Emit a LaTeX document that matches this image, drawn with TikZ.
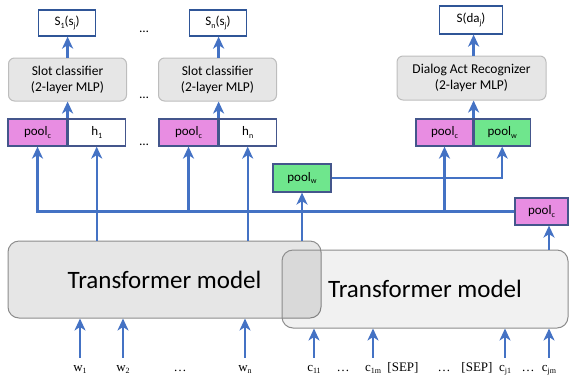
\documentclass[tikz,border=0pt]{standalone}
\usepackage{fontspec}
\setmainfont{Carlito}
\newfontfamily\inputfont{Liberation Serif}
\usetikzlibrary{arrows.meta}
\definecolor{arrowblue}{HTML}{4472C4}
\definecolor{scoreblue}{HTML}{2F5597}
\definecolor{poolborder}{HTML}{44568C}
\definecolor{poolpink}{HTML}{E88DE2}
\definecolor{poolgreen}{HTML}{6FE68D}
\definecolor{boxfill}{HTML}{E6E6E6}
\definecolor{boxline}{HTML}{BDBDBD}
\newcommand\lowsub[1]{\raisebox{-0.45ex}{\fontsize{8}{9}\selectfont #1}}

\begin{document}
\begin{tikzpicture}[x=1pt, y=-1pt, >={Stealth[length=12pt,width=11pt,inset=3.5pt]},
  flow/.style={->, draw=arrowblue, line width=2.3pt},
  score/.style={draw=scoreblue, fill=white, line width=1.2pt, minimum width=57pt,
    minimum height=26pt, inner sep=0pt, font=\fontsize{13}{15}\selectfont},
  mlp/.style={draw=boxline, fill=boxfill, rounded corners=6pt, line width=1pt,
    minimum width=118pt, minimum height=43pt, align=center,
    font=\fontsize{13.5}{16}\selectfont},
  vec/.style={draw=poolborder, line width=1.2pt, minimum height=27pt, inner sep=0pt,
    font=\fontsize{13}{15}\selectfont},
  trans/.style={draw=black!45, rounded corners=11pt, line width=1pt,
    font=\fontsize{25}{28}\selectfont},
  input/.style={font=\inputfont\fontsize{13}{15}\selectfont, text height=11pt,
    text depth=3pt, inner sep=2pt, anchor=base}]

\useasboundingbox (0,0) rectangle (569,381);

% output scores
\node [score] (score-1) at (67,23) {S\lowsub{1}(s\lowsub{j})};
\node [score] (score-n) at (218,23) {S\lowsub{n}(s\lowsub{j})};
\node [score, minimum width=63pt, minimum height=28pt] (score-da) at (471,20) {S(da\lowsub{j})};

% classifiers
\node [mlp] (clf-1) at (67.5,79.5) {Slot classifier\\(2-layer MLP)};
\node [mlp] (clf-n) at (217.5,79.5) {Slot classifier\\(2-layer MLP)};
\node [mlp, minimum width=149pt, minimum height=44pt] (dar) at (471.5,78) {Dialog Act Recognizer\\(2-layer MLP)};

% pooled vectors
\foreach \i/\xc in {1/37.5, n/188.5} {
  \node [vec, fill=poolpink, minimum width=59pt] (poolc-\i) at (\xc,132.5) {pool\lowsub{c}};
  \node [vec, fill=white, minimum width=57pt, anchor=west] (h-\i) at (poolc-\i.east) {h\lowsub{\i}};
}
\node [vec, fill=poolpink, minimum width=57pt] (poolc-da) at (444.5,132.5) {pool\lowsub{c}};
\node [vec, fill=poolgreen, minimum width=56pt, anchor=west] (poolw-da) at (poolc-da.east) {pool\lowsub{w}};

\foreach \y [count=\k] in {32,98,145}
  \node [font=\fontsize{13}{15}\selectfont, inner sep=0pt] (dots-\k) at (144,\y) {\dots};

\node [vec, fill=poolgreen, minimum width=58pt, minimum height=28pt] (poolw-mid) at (302,178) {pool\lowsub{w}};
\node [vec, fill=poolpink, minimum width=53pt] (poolc-r) at (541.5,211.5) {pool\lowsub{c}};

% encoders
\node [trans, fill=boxfill, minimum width=313pt, minimum height=77pt] (trans-1) at (164.5,279.5) {Transformer model};
\node [trans, fill=black, fill opacity=0.055, text opacity=1, minimum width=286pt, minimum height=78pt] (trans-2) at (425,289) {Transformer model};

% inputs
\foreach \n/\l/\xc in {w-1/w\lowsub{1}/80, w-2/w\lowsub{2}/123, w-dots/\dots/180, w-n/w\lowsub{n}/245}
  \node [input] (\n) at (\xc,371) {\l};
\foreach \n/\l/\xc in {c-11/c\lowsub{11}/314, c-dots1/\dots/343, c-1m/c\lowsub{1m}/373,
    sep-1/{[SEP]}/403, c-dots2/\dots/444, sep-2/{[SEP]}/477, c-j1/c\lowsub{j1}/505,
    c-dots3/\dots/528, c-jm/c\lowsub{jm}/549}
  \node [input] (\n) at (\xc,371) {\l};

\foreach \n in {w-1,w-2,w-n}
  \draw [flow] (\n.north) -- (\n.north |- trans-1.south);
\foreach \n in {c-11,c-1m,c-j1,c-jm}
  \draw [flow] (\n.north) -- (\n.north |- trans-2.south);

% connections
\draw [flow] (poolc-r.west) -| (poolc-1.south);
\draw [flow] (poolc-n.south |- poolc-r.west) -- (poolc-n.south);
\draw [flow] (poolc-da.south |- poolc-r.west) -- (poolc-da.south);
\foreach \i in {1,n}
  \draw [flow] (h-\i.south |- trans-1.north) -- (h-\i.south);
\draw [flow] (poolw-mid.south |- trans-1.north) -- (poolw-mid.south);
\draw [flow] (poolw-mid.east) -| (poolw-da.south);
\draw [flow] (c-jm.north |- trans-2.north) -- (c-jm.north |- poolc-r.south);

\foreach \i/\c/\s in {1/clf-1/score-1, n/clf-n/score-n}{
  \draw [flow] (poolc-\i.north east) -- (poolc-\i.north east |- \c.south);
  \draw [flow] (poolc-\i.north east |- \c.north) -- (poolc-\i.north east |- \s.south);
}
\draw [flow] (poolc-da.north east) -- (poolc-da.north east |- dar.south);
\draw [flow] (poolc-da.north east |- dar.north) -- (poolc-da.north east |- score-da.south);

\end{tikzpicture}
\end{document}
